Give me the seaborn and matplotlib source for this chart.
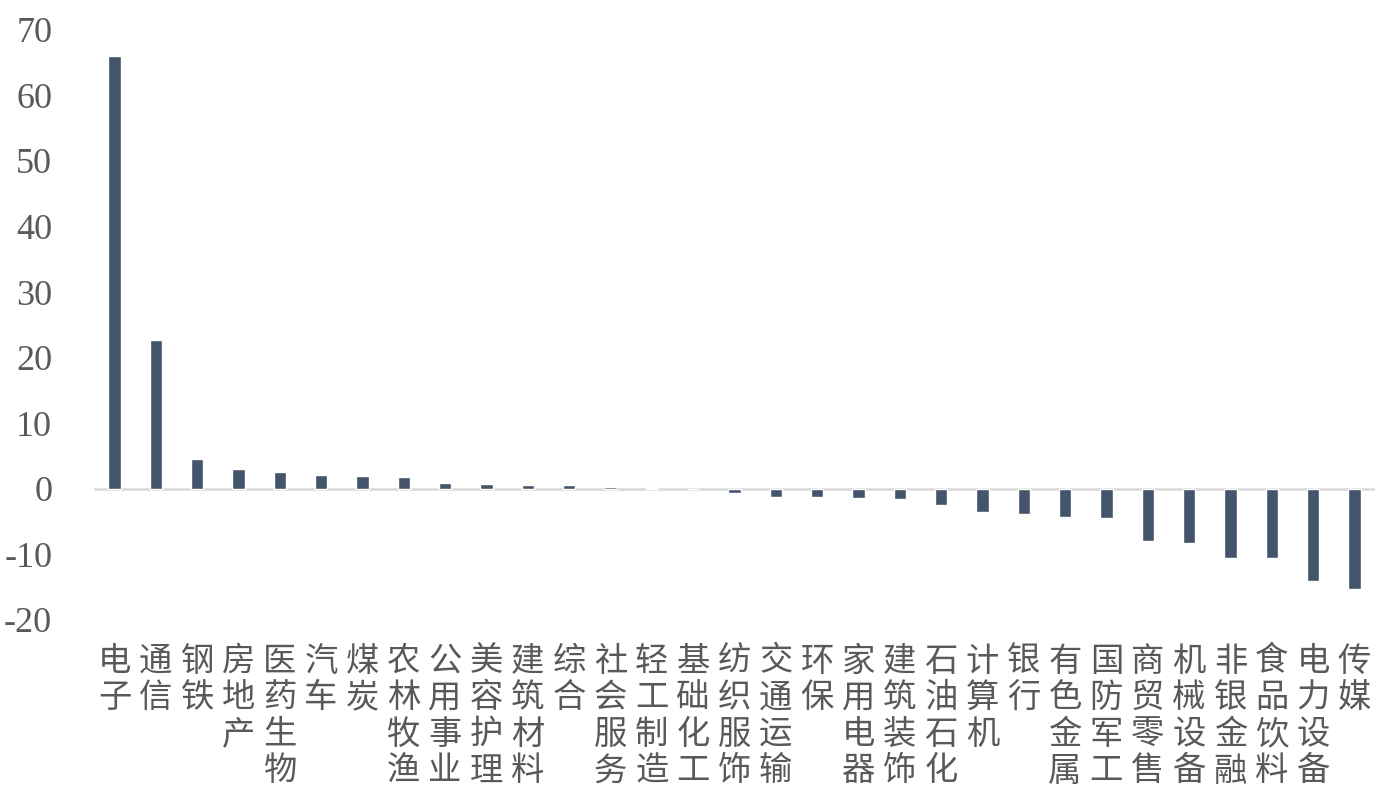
import matplotlib
matplotlib.use("Agg")
import matplotlib.pyplot as plt
import seaborn as sns
import pandas as pd

categories = ["电子", "通信", "钢铁", "房地产", "医药生物", "汽车", "煤炭", "农林牧渔",
              "公用事业", "美容护理", "建筑材料", "综合", "社会服务", "轻工制造", "基础化工",
              "纺织服饰", "交通运输", "环保", "家用电器", "建筑装饰", "石油石化", "计算机",
              "银行", "有色金属", "国防军工", "商贸零售", "机械设备", "非银金融", "食品饮料",
              "电力设备", "传媒"]
values = [66.0, 22.7, 4.5, 3.1, 2.5, 2.1, 1.95, 1.75,
          0.9, 0.7, 0.63, 0.53, 0.23, 0.2, -0.05,
          -0.65, -1.27, -1.3, -1.45, -1.6, -2.45, -3.5,
          -3.85, -4.35, -4.5, -8.0, -8.3, -10.6, -10.6,
          -14.1, -15.2]
yticks = [-20, -10, 0, 10, 20, 30, 40, 50, 60, 70]

sns.set_theme(style="white")
plt.rcParams['font.family'] = ['Noto Sans CJK SC', 'DejaVu Sans']

df = pd.DataFrame({"cat": categories, "val": values})

fig = plt.figure(figsize=(13.8, 7.89), dpi=100)
ax = fig.add_axes([0.068, 0.2142, 0.9284, 0.748])
sns.barplot(data=df, x="cat", y="val", order=categories, color="#44546a",
            saturation=1, width=0.3, ax=ax)
ax.set_xlim(-0.5, len(categories) - 0.5)
ax.set_ylim(-20, 70)
ax.set_yticks(yticks)
ax.set_yticklabels([str(t) for t in yticks], family=['Liberation Serif'],
                   fontsize=26, color="#595959")
ax.axhline(0, color="#d9d9d9", lw=1.8, zorder=0.5)
for s in ax.spines.values():
    s.set_visible(False)
ax.set_xlabel("")
ax.set_ylabel("")
ax.set_xticks(range(len(categories)))
ax.set_xticklabels(["\n".join(list(c)) for c in categories], fontsize=24,
                   color="#595959", linespacing=1.06, va="top")
ax.tick_params(axis="x", length=0, pad=17)
ax.tick_params(axis="y", length=0, pad=30)
fig.savefig("out.png", dpi=100)
